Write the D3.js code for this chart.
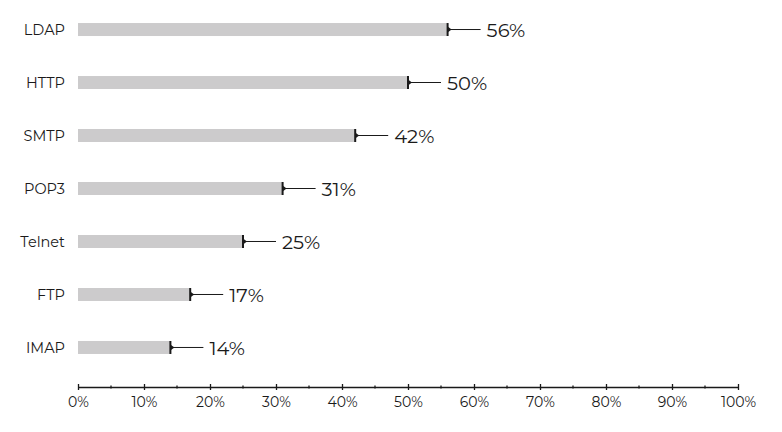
<!DOCTYPE html>
<html>
<head>
<meta charset="utf-8">
<script src="https://cdn.jsdelivr.net/npm/d3@7.9.0/dist/d3.min.js"></script>
<style>
  body { margin: 0; background: #fff; }
  svg { display: block; font-family: "Montserrat", "Lato", "Noto Sans", sans-serif; font-weight: 400; }
</style>
</head>
<body>
<svg width="782" height="432"></svg>
<script>
// data
const protocols = ['LDAP', 'HTTP', 'SMTP', 'POP3', 'Telnet', 'FTP', 'IMAP'];
const shares = [56, 50, 42, 31, 25, 17, 14];
const majorTicks = [0, 10, 20, 30, 40, 50, 60, 70, 80, 90, 100];
const minorTicks = [5, 15, 25, 35, 45, 55, 65, 75, 85, 95];

const svg = d3.select('svg');
const margin = { left: 78, right: 44, top: 3, bottom: 45 };
const width = 782, height = 432;

const x = d3.scaleLinear().domain([0, 100]).range([margin.left, width - margin.right]);
const y = d3.scaleBand().domain(protocols)
    .range([margin.top, 374]).paddingInner(0.755).paddingOuter(0.378);

const rows = protocols.map((p, i) => ({ name: p, value: shares[i] }));

// bars
svg.selectAll('rect.bar')
    .data(rows)
    .join('rect')
    .attr('class', 'bar')
    .attr('x', x(0))
    .attr('y', (d) => y(d.name))
    .attr('width', (d) => x(d.value) - x(0))
    .attr('height', y.bandwidth())
    .attr('fill', '#cccbcc');

// end markers + leader lines
const g = svg.selectAll('g.mark')
    .data(rows)
    .join('g')
    .attr('class', 'mark')
    .attr('transform', (d) => `translate(${x(d.value)},${y(d.name) + y.bandwidth() / 2})`);

g.append('line')
    .attr('y1', -y.bandwidth() / 2).attr('y2', y.bandwidth() / 2)
    .attr('stroke', '#1a1a1a').attr('stroke-width', 2);
g.append('path')
    .attr('d', 'M0,-3L4,0L0,3Z')
    .attr('fill', '#1a1a1a');
g.append('line')
    .attr('x1', 0).attr('x2', 33)
    .attr('stroke', '#1a1a1a').attr('stroke-width', 1);
g.append('text')
    .attr('x', 39).attr('dy', '0.36em')
    .attr('font-size', 19.5)
    .attr('fill', '#1a1a1a')
    .text((d) => d.value + '%');

// category labels
svg.selectAll('text.cat')
    .data(rows)
    .join('text')
    .attr('class', 'cat')
    .attr('x', 65)
    .attr('y', (d) => y(d.name) + y.bandwidth() / 2)
    .attr('dy', '0.36em')
    .attr('text-anchor', 'end')
    .attr('font-size', 14.5)
    .attr('fill', '#1a1a1a')
    .text((d) => d.name);

// x axis
const axisY = 387;
const axis = svg.append('g').attr('transform', `translate(0,${axisY})`);
axis.call(d3.axisBottom(x).tickValues(majorTicks).tickFormat((d) => d + '%').tickSize(3).tickSizeOuter(0));
axis.select('.domain').attr('stroke', '#1a1a1a').attr('stroke-width', 1.3);
axis.selectAll('.tick line').attr('y1', -3).attr('stroke', '#1a1a1a').attr('stroke-width', 1.3);
axis.selectAll('.tick text')
    .attr('y', 10)
    .attr('font-size', 14)
    .attr('font-family', '"Montserrat", "Lato", "Noto Sans", sans-serif')
    .attr('font-weight', 400)
    .attr('fill', '#1a1a1a');

axis.selectAll('line.minor')
    .data(minorTicks)
    .join('line')
    .attr('class', 'minor')
    .attr('x1', (d) => x(d)).attr('x2', (d) => x(d))
    .attr('y1', -1.5).attr('y2', 1.5)
    .attr('stroke', '#1a1a1a').attr('stroke-width', 1.3);
</script>
</body>
</html>
